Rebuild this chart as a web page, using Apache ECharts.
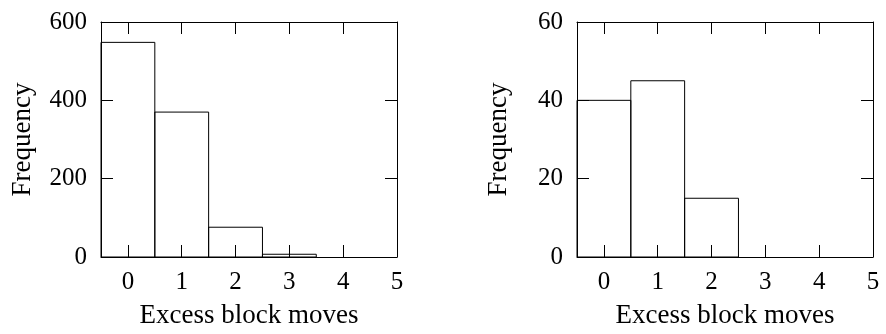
<!DOCTYPE html>
<html>
<head>
<meta charset="utf-8">
<script src="https://cdn.jsdelivr.net/npm/echarts@6/dist/echarts.min.js"></script>
<style>
  html, body { margin: 0; padding: 0; background: #fff; }
  #chart { width: 886px; height: 334px; }
</style>
</head>
<body>
<div id="chart"></div>
<script>
// excess block moves (bin centres) and how often each happened
const moves = [0, 1, 2, 3, 4]
const freqLeft = [548, 370, 76, 7, 0]
const freqRight = [40, 45, 15, 0, 0]
const xTicks = [0, 1, 2, 3, 4, 5]
const yMaxLeft = 600
const yStepLeft = 200
const yMaxRight = 60
const yStepRight = 20

const font = '"Liberation Serif", "DejaVu Serif", serif'

function renderBin(params, api) {
  const x = api.value(0)
  const y = api.value(1)
  if (!y) return null
  const p0 = api.coord([x - 0.5, y])
  const p1 = api.coord([x + 0.5, 0])
  return {
    type: 'rect',
    shape: { x: p0[0], y: p0[1], width: p1[0] - p0[0], height: p1[1] - p0[1] },
    style: { fill: 'none', stroke: '#000', lineWidth: 1 }
  }
}

function xAxes(gridIndex) {
  const base = {
    type: 'value',
    gridIndex: gridIndex,
    min: -0.5,
    max: 5,
    splitLine: { show: false },
    axisLine: { show: true, onZero: false, lineStyle: { color: '#000', width: 1 } },
    axisTick: { show: true, inside: true, length: 12, customValues: xTicks, lineStyle: { color: '#000' } }
  }
  return [
    Object.assign({}, base, {
      position: 'bottom',
      name: 'Excess block moves',
      nameLocation: 'middle',
      nameGap: 45,
      nameTextStyle: { fontFamily: font, fontSize: 27, color: '#000' },
      axisLabel: { show: true, customValues: xTicks, margin: 13, fontFamily: font, fontSize: 25, color: '#000' }
    }),
    Object.assign({}, base, { position: 'top', axisLabel: { show: false } })
  ]
}

function yAxes(gridIndex, max, step) {
  const base = {
    type: 'value',
    gridIndex: gridIndex,
    min: 0,
    max: max,
    interval: step,
    splitLine: { show: false },
    axisLine: { show: true, onZero: false, lineStyle: { color: '#000', width: 1 } },
    axisTick: { show: true, inside: true, length: 12, lineStyle: { color: '#000' } }
  }
  return [
    Object.assign({}, base, {
      position: 'left',
      name: 'Frequency',
      nameLocation: 'middle',
      nameGap: 65,
      nameTextStyle: { fontFamily: font, fontSize: 27, color: '#000' },
      axisLabel: { show: true, margin: 14, fontFamily: font, fontSize: 25, color: '#000' }
    }),
    Object.assign({}, base, { position: 'right', axisLabel: { show: false } })
  ]
}

const chart = echarts.init(document.getElementById('chart'), null, { renderer: 'canvas' })
chart.setOption({
  animation: false,
  backgroundColor: '#fff',
  textStyle: { fontFamily: font },
  grid: [
    { left: 101, top: 22, width: 296, height: 236 },
    { left: 577, top: 22, width: 296, height: 236 }
  ],
  xAxis: xAxes(0).concat(xAxes(1)),
  yAxis: yAxes(0, yMaxLeft, yStepLeft).concat(yAxes(1, yMaxRight, yStepRight)),
  series: [
    {
      type: 'custom',
      xAxisIndex: 0,
      yAxisIndex: 0,
      renderItem: renderBin,
      data: moves.map((m, i) => [m, freqLeft[i]])
    },
    {
      type: 'custom',
      xAxisIndex: 2,
      yAxisIndex: 2,
      renderItem: renderBin,
      data: moves.map((m, i) => [m, freqRight[i]])
    }
  ]
})
</script>
</body>
</html>
